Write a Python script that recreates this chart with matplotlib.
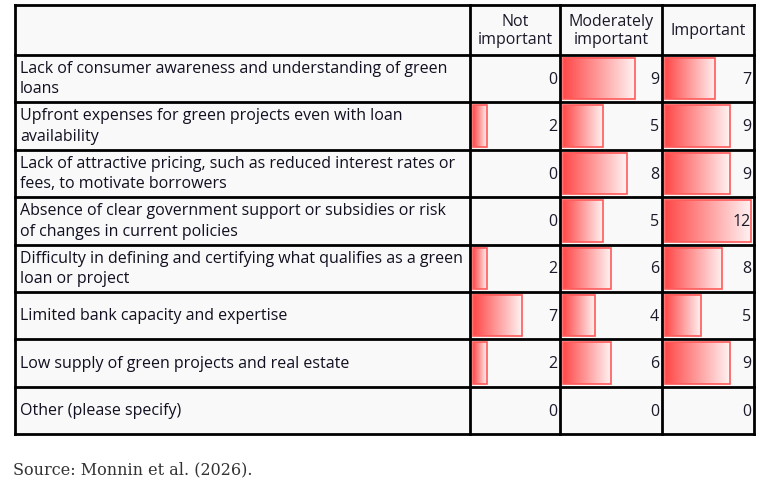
import numpy as np
import matplotlib
matplotlib.use("Agg")
import matplotlib.pyplot as plt
from matplotlib.patches import Rectangle
from matplotlib.colors import LinearSegmentedColormap

# --- data ---
barriers = [
    "Lack of consumer awareness and understanding of green\nloans",
    "Upfront expenses for green projects even with loan\navailability",
    "Lack of attractive pricing, such as reduced interest rates or\nfees, to motivate borrowers",
    "Absence of clear government support or subsidies or risk\nof changes in current policies",
    "Difficulty in defining and certifying what qualifies as a green\nloan or project",
    "Limited bank capacity and expertise",
    "Low supply of green projects and real estate",
    "Other (please specify)",
]
columns = ["Not\nimportant", "Moderately\nimportant", "Important"]
not_important = [0, 2, 0, 0, 2, 7, 2, 0]
moderately_important = [9, 5, 8, 5, 6, 4, 6, 0]
important = [7, 9, 9, 12, 8, 5, 9, 0]
source = "Source: Monnin et al. (2026)."

# --- layout (pixel space) ---
W, H = 770, 486
x_edges = [15, 470, 560, 662, 754]
y_top, y_head = 5, 55
row_h = 47.4
n_rows = len(barriers)

fig = plt.figure(figsize=(W / 100, H / 100), dpi=100)
ax = fig.add_axes([0, 0, 1, 1])
ax.set_xlim(0, W)
ax.set_ylim(H, 0)
ax.axis("off")

font = "Open Sans"
fs = 11.5
y_bot = y_head + n_rows * row_h
ax.add_patch(Rectangle((x_edges[0], y_top), x_edges[-1] - x_edges[0], y_bot - y_top,
                       facecolor="#f9f9f9", edgecolor="none", zorder=0))

cmap = LinearSegmentedColormap.from_list("bar", ["#ff4848", "#ff9c9c", "#fff2f2"])
grad = np.linspace(0, 1, 256).reshape(1, -1)
vmax = max(max(not_important), max(moderately_important), max(important))
values = [not_important, moderately_important, important]

# header
for j, col in enumerate(columns):
    cx = (x_edges[j + 1] + x_edges[j + 2]) / 2
    ax.text(cx, (y_top + y_head) / 2 + 1, col, ha="center", va="center",
            fontsize=fs, family=font, color="#1a1a2a", linespacing=1.25)

for i, label in enumerate(barriers):
    r0 = y_head + i * row_h
    r1 = r0 + row_h
    rc = (r0 + r1) / 2
    ax.text(x_edges[0] + 5, rc + 0.5, label, ha="left", va="center", fontsize=fs,
            family=font, color="#101020", linespacing=1.38)
    for j in range(3):
        c0, c1 = x_edges[j + 1], x_edges[j + 2]
        v = values[j][i]
        full = (c1 - c0) - 6
        bw = v / vmax * full
        if v > 0:
            bx0, by0, by1 = c0 + 3, r0 + 3, r1 - 3
            ax.imshow(grad, cmap=cmap, aspect="auto", extent=(bx0, bx0 + bw, by1, by0),
                      interpolation="bilinear", zorder=1)
            ax.add_patch(Rectangle((bx0, by0), bw, by1 - by0, facecolor="none",
                                   edgecolor="#ff5a5a", linewidth=1.2, zorder=2))
        ax.text(c1 - 3, rc + 1, str(v), ha="right", va="center", fontsize=fs,
                family=font, color="#1a1a2a", zorder=3)

# grid lines
lw = 2.0
for x in x_edges:
    ax.plot([x, x], [y_top, y_bot], color="black", linewidth=lw, zorder=4,
            solid_capstyle="projecting")
for k in range(n_rows + 2):
    y = y_top if k == 0 else y_head + (k - 1) * row_h
    ax.plot([x_edges[0], x_edges[-1]], [y, y], color="black", linewidth=lw, zorder=4,
            solid_capstyle="projecting")

ax.set_xlim(0, W)
ax.set_ylim(H, 0)

ax.text(13, 470, source, ha="left", va="center", fontsize=11.5,
        family="DejaVu Serif", color="#333333")

fig.savefig("out.png", dpi=100)
